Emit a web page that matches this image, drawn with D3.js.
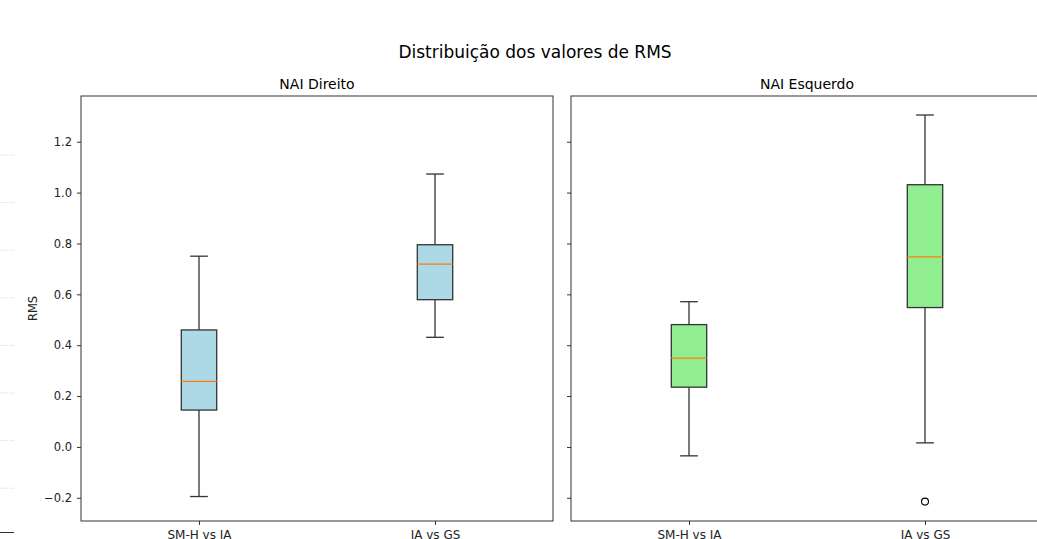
<!DOCTYPE html>
<html>
<head>
<meta charset="utf-8">
<script src="https://cdn.jsdelivr.net/npm/d3@7"></script>
<style>
body { margin: 0; background: #fff; }
svg { display: block; font-family: "DejaVu Sans", sans-serif; }
</style>
</head>
<body>
<svg id="chart" width="1037" height="539"></svg>
<script>
const categories = ["SM-H vs IA", "IA vs GS"];
const panelTitles = ["NAI Direito", "NAI Esquerdo"];
const panelColors = ["#add8e6", "#90ee90"];
// [whiskerLow, q1, median, q3, whiskerHigh]
const direitoStats = [
  [-0.195, 0.145, 0.258, 0.46, 0.75],
  [0.431, 0.579, 0.719, 0.795, 1.073]
];
const esquerdoStats = [
  [-0.035, 0.235, 0.349, 0.481, 0.571],
  [0.016, 0.548, 0.747, 1.031, 1.305]
];
const direitoOutliers = [[], []];
const esquerdoOutliers = [[], [-0.215]];
const yTicks = [-0.2, 0.0, 0.2, 0.4, 0.6, 0.8, 1.0, 1.2];

(function () {
const svg = d3.select("#chart");
const panels = [
  {left: 81, stats: direitoStats, outliers: direitoOutliers, showLabels: true},
  {left: 571, stats: esquerdoStats, outliers: esquerdoOutliers, showLabels: false}
];
const plotTop = 96, plotBottom = 521, pw = 472;

const y = d3.scaleLinear().domain([-0.2912, 1.3798]).range([plotBottom, plotTop]);

// faint leftover marks at the left edge
for (let i = 0; i < 8; i++) {
  svg.append("line").attr("x1",0).attr("x2",14)
    .attr("y1",155+i*47.6).attr("y2",155+i*47.6)
    .attr("stroke","#e4e4e4").attr("stroke-width",1).attr("stroke-dasharray","2,1");
}
svg.append("line").attr("x1",0).attr("x2",14).attr("y1",532.5).attr("y2",532.5)
  .attr("stroke","#333").attr("stroke-width",1);

svg.append("text").attr("x", 535).attr("y", 58).attr("text-anchor","middle")
  .attr("font-size", 17).attr("fill","#000").text("Distribuição dos valores de RMS");

panels.forEach((p, pi) => {
  const g = svg.append("g");
  const x = d3.scaleLinear().domain([0.5, 2.5]).range([p.left, p.left + pw]);
  const bw = x(1.15) - x(1);
  const cw = bw / 2;

  const yAxis = d3.axisLeft(y).tickValues(yTicks).tickSize(4).tickPadding(5)
    .tickFormat(p.showLabels ? d => d3.format(".1f")(d).replace("-", "\u2212") : () => "");
  const ya = g.append("g").attr("transform", `translate(${p.left},0)`).call(yAxis);
  ya.select(".domain").remove();
  ya.selectAll("text").attr("font-size", 11.5).attr("fill", "#222").attr("font-family","DejaVu Sans, sans-serif");
  ya.selectAll("line").attr("stroke", "#333");

  const xAxis = d3.axisBottom(x).tickValues([1, 2]).tickSize(4).tickPadding(5.7)
    .tickFormat((d, i) => categories[i]);
  const xa = g.append("g").attr("transform", `translate(0,${plotBottom})`).call(xAxis);
  xa.select(".domain").remove();
  xa.selectAll("text").attr("font-size", 12).attr("fill", "#222").attr("font-family","DejaVu Sans, sans-serif");
  xa.selectAll("line").attr("stroke", "#333");

  g.append("rect").attr("x", p.left).attr("y", plotTop).attr("width", pw).attr("height", plotBottom - plotTop)
    .attr("fill", "none").attr("stroke", "#333").attr("stroke-width", 1);

  g.append("text").attr("x", p.left + pw / 2).attr("y", 89).attr("text-anchor", "middle")
    .attr("font-size", 14).attr("fill", "#000").text(panelTitles[pi]);

  p.stats.forEach((s, i) => {
    const cx = x(i + 1);
    const [lo, q1, med, q3, hi] = s;
    const bg = g.append("g");
    bg.append("line").attr("x1", cx).attr("x2", cx).attr("y1", y(q3)).attr("y2", y(hi)).attr("stroke", "#333").attr("stroke-width", 1.3);
    bg.append("line").attr("x1", cx).attr("x2", cx).attr("y1", y(q1)).attr("y2", y(lo)).attr("stroke", "#333").attr("stroke-width", 1.3);
    bg.append("line").attr("x1", cx - cw/2).attr("x2", cx + cw/2).attr("y1", y(hi)).attr("y2", y(hi)).attr("stroke", "#333").attr("stroke-width", 1.3);
    bg.append("line").attr("x1", cx - cw/2).attr("x2", cx + cw/2).attr("y1", y(lo)).attr("y2", y(lo)).attr("stroke", "#333").attr("stroke-width", 1.3);
    bg.append("rect").attr("x", cx - bw/2).attr("y", y(q3)).attr("width", bw).attr("height", y(q1) - y(q3))
      .attr("fill", panelColors[pi]).attr("stroke", "#333").attr("stroke-width", 1.3);
    bg.append("line").attr("x1", cx - bw/2).attr("x2", cx + bw/2).attr("y1", y(med)).attr("y2", y(med))
      .attr("stroke", "#ff7f0e").attr("stroke-width", 1.3);
    p.outliers[i].forEach(o => {
      bg.append("circle").attr("cx", cx).attr("cy", y(o)).attr("r", 3.5)
        .attr("fill", "none").attr("stroke", "#000").attr("stroke-width", 1.1);
    });
  });
});

svg.append("text").attr("transform", `translate(37,${(plotTop+plotBottom)/2}) rotate(-90)`)
  .attr("text-anchor", "middle").attr("font-size", 11.5).attr("fill", "#222").text("RMS");
})();
</script>
</body>
</html>
